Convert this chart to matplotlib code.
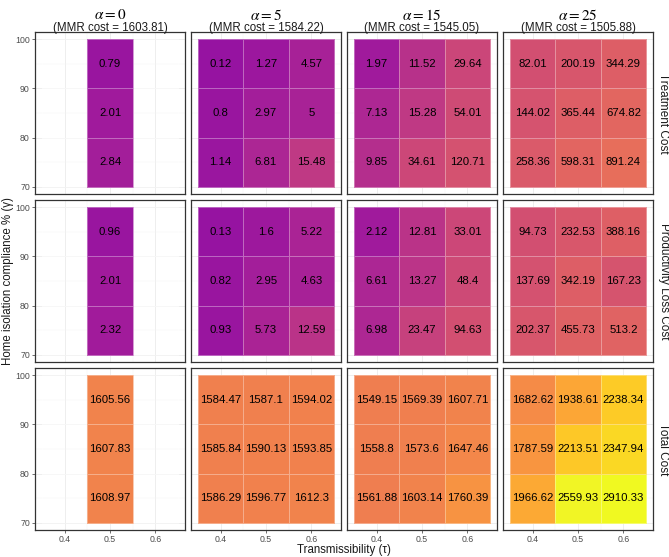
import numpy as np
import matplotlib
matplotlib.use("Agg")
import matplotlib.pyplot as plt
from matplotlib.colors import FuncNorm, ListedColormap

plt.rcParams['font.family'] = ['Liberation Sans', 'DejaVu Sans']
plt.rcParams['mathtext.fontset'] = 'stix'

# ---------------- data ----------------
alphas = [0, 5, 15, 25]
mmr_cost = [1603.81, 1584.22, 1545.05, 1505.88]
tau = [0.4, 0.5, 0.6]
gamma = [75, 85, 95]           # tile centres (rows listed bottom -> top)
row_labels = ["Treatment Cost", "Productivity Loss Cost", "Total Cost"]

nan = np.nan
# each grid: rows = gamma 75, 85, 95 ; cols = tau 0.4, 0.5, 0.6
treatment = [
    [[nan, 2.84, nan], [nan, 2.01, nan], [nan, 0.79, nan]],
    [[1.14, 6.81, 15.48], [0.8, 2.97, 5], [0.12, 1.27, 4.57]],
    [[9.85, 34.61, 120.71], [7.13, 15.28, 54.01], [1.97, 11.52, 29.64]],
    [[258.36, 598.31, 891.24], [144.02, 365.44, 674.82], [82.01, 200.19, 344.29]],
]
productivity = [
    [[nan, 2.32, nan], [nan, 2.01, nan], [nan, 0.96, nan]],
    [[0.93, 5.73, 12.59], [0.82, 2.95, 4.63], [0.13, 1.6, 5.22]],
    [[6.98, 23.47, 94.63], [6.61, 13.27, 48.4], [2.12, 12.81, 33.01]],
    [[202.37, 455.73, 513.2], [137.69, 342.19, 167.23], [94.73, 232.53, 388.16]],
]
total = [
    [[nan, 1608.97, nan], [nan, 1607.83, nan], [nan, 1605.56, nan]],
    [[1586.29, 1596.77, 1612.3], [1585.84, 1590.13, 1593.85], [1584.47, 1587.1, 1594.02]],
    [[1561.88, 1603.14, 1760.39], [1558.8, 1573.6, 1647.46], [1549.15, 1569.39, 1607.71]],
    [[1966.62, 2559.93, 2910.33], [1787.59, 2213.51, 2347.94], [1682.62, 1938.61, 2238.34]],
]
rows_data = [treatment, productivity, total]

# ---------------- colour scale ----------------
av = np.array([0, 1, 3, 15, 30, 82, 350, 900, 1550, 2560, 2910])
ac = np.array([0.32, 0.33, 0.36, 0.45, 0.50, 0.53, 0.58, 0.63, 0.68, 0.99, 1.0])
def fwd(v):
    return np.interp(np.asarray(v, float), av, ac)
def inv(c):
    return np.interp(np.asarray(c, float), ac, av)
norm = FuncNorm((fwd, inv), vmin=av[0], vmax=av[-1])
cmap = ListedColormap(plt.get_cmap('plasma')(np.linspace(ac[0], 1.0, 256)))

def fmt(v):
    return f"{v:.2f}".rstrip('0').rstrip('.')

# ---------------- layout ----------------
W, H = 669, 557
fig = plt.figure(figsize=(W / 100, H / 100), dpi=100)
lefts = [35, 191, 347, 503]
pw = 150
tops = [32, 200, 368]
ph = 162

xe = np.array([0.35, 0.45, 0.55, 0.65])
ye = np.array([70, 80, 90, 100])

for r in range(3):
    for c in range(4):
        ax = fig.add_axes([lefts[c] / W, 1 - (tops[r] + ph) / H, pw / W, ph / H])
        Z = np.ma.masked_invalid(np.array(rows_data[r][c], float))
        ax.set_axisbelow(True)
        ax.set_xticks(tau)
        ax.set_yticks([70, 80, 90, 100])
        ax.set_xticks([0.45, 0.55], minor=True)
        ax.set_yticks([75, 85, 95], minor=True)
        ax.grid(True, which='major', color='#ebebeb', linewidth=0.6)
        ax.grid(True, which='minor', color='#f3f3f3', linewidth=0.35)
        ax.pcolormesh(xe, ye, Z, cmap=cmap, norm=norm,
                      edgecolors=(1, 1, 1, 0.35), linewidth=0.6)
        for i, g in enumerate(gamma):
            for j, t in enumerate(tau):
                v = rows_data[r][c][i][j]
                if not np.isnan(v):
                    ax.text(t, g, fmt(v), ha='center', va='center',
                            fontsize=8.2, color='black')
        ax.set_xlim(0.335, 0.665)
        ax.set_ylim(68.5, 101.5)
        for sp in ax.spines.values():
            sp.set_color('#333333')
            sp.set_linewidth(0.9)
        ax.tick_params(which='minor', length=0)
        ax.tick_params(which='major', length=2.5, width=0.5, color='#333333',
                       labelsize=6.3, labelcolor='#4d4d4d', pad=1.2)
        if c != 0:
            ax.tick_params(axis='y', which='major', length=0, labelleft=False)
        if r != 2:
            ax.tick_params(axis='x', which='major', length=0, labelbottom=False)
        if c == 3:
            ax.text(1 + 10.5 / pw, 0.5, row_labels[r], transform=ax.transAxes,
                    rotation=-90, ha='center', va='center', fontsize=8.5,
                    color='#1a1a1a')

for c in range(4):
    xc = (lefts[c] + pw / 2) / W
    fig.text(xc, 1 - 15 / H, rf"$\alpha = {alphas[c]}$", ha='center',
             va='center', fontsize=11)
    fig.text(xc, 1 - 28.5 / H, f"(MMR cost = {mmr_cost[c]:.2f})", ha='center',
             va='center', fontsize=8.3, color='#1a1a1a')

fig.text(8 / W, 1 - 281 / H, "Home isolation compliance % (γ)", rotation=90,
         ha='center', va='center', fontsize=8.3, color='#1a1a1a')
fig.text(344 / W, 1 - 550 / H, "Transmissibility (τ)", ha='center',
         va='center', fontsize=8.3, color='#1a1a1a')

fig.savefig("out.png", dpi=100)
